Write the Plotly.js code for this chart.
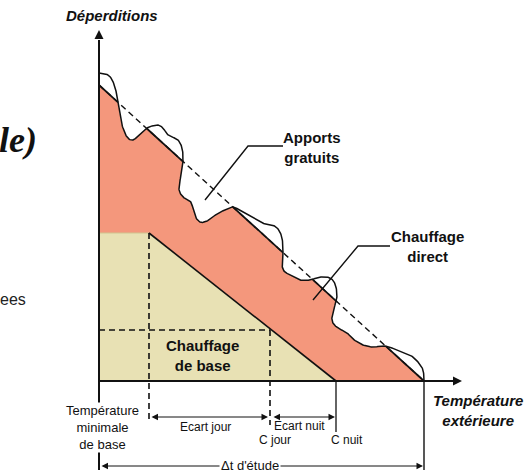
<!DOCTYPE html>
<html><head><meta charset="utf-8">
<script src="https://cdn.plot.ly/plotly-3.0.1.min.js"></script>
<style>html,body{margin:0;padding:0;background:#fff}#chart{width:525px;height:473px}</style>
</head><body><div id="chart"></div>
<script>
// Diagram coordinates: x = outdoor temperature position (0 = origin), y = heat losses (déperditions)
const curveX = [0,7,12,16,18,20,23,28,34,41,48,53,59,64,68,73,79,83,84,82,80,84,91,94,96,101,108,118,128,134,144,154,163,173,179,183,184,183,185,191,201,211,221,231,236,238,236,233,234,239,248,254,264,274,286,298,311,319,324,325];
const curveY = [308,307,303,294,284,271,256,244,241,247,253,255,256,253,247,244,241,233,221,206,192,184,180,173,165,159,160,167,172,174,169,163,158,156,152,143,129,117,110,106,101,101,104,103,97,86,76,65,58,53,48,42,36,34,35,31,26,19,11,0];
const deperdX = [0, 325];
const deperdY = [296, 0];
const baseX = [0, 50, 237, 0];
const baseY = [148, 148, 0, 0];
const tMinBase = 50, cJour = 171, cNuit = 237, tEtude = 325;
const niveauJour = 51;
const xAxisEnd = 363, yAxisTop = 351, yBottom = -89;

const RED = '#F4977C', BEIGE = '#E8E1B4', INK = '#111';

function lineH(x){ return deperdY[0] + (deperdY[1]-deperdY[0])*(x-deperdX[0])/(deperdX[1]-deperdX[0]); }
function densify(xs, ys, n){
  const ox=[], oy=[], N=xs.length;
  for(let i=0;i<N-1;i++){
    const i0=Math.max(i-1,0), i3=Math.min(i+2,N-1);
    for(let k=0;k<n;k++){
      const t=k/n, t2=t*t, t3=t2*t;
      const f=(a,b,c,d)=>0.5*((2*b)+(-a+c)*t+(2*a-5*b+4*c-d)*t2+(-a+3*b-3*c+d)*t3);
      ox.push(f(xs[i0],xs[i],xs[i+1],xs[i3]));
      oy.push(f(ys[i0],ys[i],ys[i+1],ys[i3]));
    }
  }
  ox.push(xs[N-1]); oy.push(ys[N-1]);
  return [ox, oy];
}
const [dx, dy] = densify(curveX, curveY, 12);
const topY = dx.map((x,i)=>Math.min(dy[i], lineH(x)));
const solidY = dx.map((x,i)=> dy[i] >= lineH(x)-0.4 ? lineH(x) : null);

const dash = '6px,4px';
const traces = [
  {x: dx.concat([tEtude, 0]), y: topY.concat([0, 0]), fill:'toself', fillcolor:RED, mode:'lines', line:{width:0}, hoverinfo:'skip'},
  {x: baseX, y: baseY, fill:'toself', fillcolor:BEIGE, mode:'lines', line:{width:0}, hoverinfo:'skip'},
  {x: [baseX[0], baseX[1]], y: [baseY[0], baseY[1]], mode:'lines', line:{color:'#CFC590', width:1}},
  {x: deperdX, y: deperdY, mode:'lines', line:{color:INK, width:1.4, dash:dash}},
  {x: dx, y: solidY, mode:'lines', connectgaps:false, line:{color:INK, width:1.7}},
  {x: dx, y: dy, mode:'lines', line:{color:INK, width:1.5}},
  {x: [baseX[1], baseX[2]], y: [baseY[1], baseY[2]], mode:'lines', line:{color:INK, width:1.6}},
  {x: [tMinBase, tMinBase], y: [baseY[1], -41], mode:'lines', line:{color:INK, width:1.6, dash:dash}},
  {x: [0, cJour], y: [niveauJour, niveauJour], mode:'lines', line:{color:INK, width:1.6, dash:dash}},
  {x: [cJour, cJour], y: [niveauJour, -44], mode:'lines', line:{color:INK, width:1.6, dash:dash}},
  {x: [cNuit, cNuit], y: [0, -51], mode:'lines', line:{color:INK, width:1.3}},
  {x: [tEtude, tEtude], y: [0, yBottom], mode:'lines', line:{color:INK, width:1.4}},
  {x: [0, 0], y: [yBottom, yAxisTop-10], mode:'lines', line:{color:INK, width:2}},
  {x: [0, xAxisEnd-8], y: [0, 0], mode:'lines', line:{color:INK, width:2}},
  {x: [106, 149, 184], y: [181, 235, 235], mode:'lines', line:{color:INK, width:1.4}},
  {x: [214, 259, 291], y: [81, 135, 135], mode:'lines', line:{color:INK, width:1.4}},
  {x: [0], y: [yAxisTop], mode:'markers', marker:{symbol:'arrow-up', size:9, color:INK}},
  {x: [xAxisEnd], y: [0], mode:'markers', marker:{symbol:'arrow-right', size:9, color:INK}}
];

const F = 'Liberation Sans, Arial, sans-serif';
function txt(x,y,t,size,opts){ return Object.assign({x:x,y:y,xref:'x',yref:'y',text:t,showarrow:false,font:{family:F,size:size,color:INK},xanchor:'center',yanchor:'middle'},opts||{}); }
function dim(x0,x1,y){ return {x:x1,y:y,ax:x0,ay:y,xref:'x',yref:'y',axref:'x',ayref:'y',text:'',showarrow:true,arrowside:'end+start',arrowhead:2,arrowsize:1.3,arrowwidth:1,arrowcolor:INK}; }

const annotations = [
  dim(51, 169, -36),
  dim(173, 236, -36),
  dim(1, 324, -85),
  txt(13, 366, '<b><i>Déperditions</i></b>', 15),
  txt(379, -29, '<b><i>Température<br>extérieure</i></b>', 15),
  txt(213, 234, '<b>Apports<br>gratuits</b>', 15),
  txt(328, 134.5, '<b>Chauffage<br>direct</b>', 15),
  txt(103, 26, '<b>Chauffage<br>de base</b>', 15),
  txt(3, -46, 'Température<br>minimale<br>de base', 13, {bgcolor:'#fff', borderpad:0}),
  txt(106, -46, 'Ecart jour', 12),
  txt(200, -45, 'Ecart nuit', 12),
  txt(176, -59, 'C jour', 12),
  txt(248, -59, 'C nuit', 12),
  txt(151, -84, 'Δt d\'étude', 13, {bgcolor:'#fff', borderpad:1}),
  txt(-60, 241, '<b><i>le)</i></b>', 36, {xanchor:'right', font:{family:'Liberation Serif, Times New Roman, serif', size:36, color:INK}}),
  txt(-71, 82, 'ees', 16, {xanchor:'right', font:{family:F, size:16, color:'#222'}})
];

const layout = {
  width:525, height:473, margin:{l:0,r:0,t:0,b:0}, showlegend:false,
  paper_bgcolor:'#fff', plot_bgcolor:'#fff',
  xaxis:{range:[-99,426], visible:false, fixedrange:true},
  yaxis:{range:[-92,381], visible:false, fixedrange:true},
  annotations: annotations
};
Plotly.newPlot('chart', traces, layout, {staticPlot:true, displayModeBar:false});
</script></body></html>
